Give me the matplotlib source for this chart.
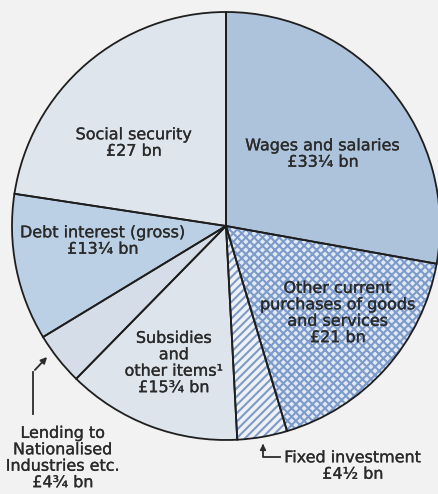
import matplotlib
matplotlib.use("Agg")
import matplotlib.pyplot as plt
import matplotlib.patheffects as pe

# Public expenditure by economic category, £ billion
categories = [
    "Wages and salaries",
    "Other current purchases of goods and services",
    "Fixed investment",
    "Subsidies and other items",
    "Lending to Nationalised Industries etc.",
    "Debt interest (gross)",
    "Social security",
]
values = [33.25, 21, 4.5, 15.75, 4.75, 13.25, 27]
value_labels = ["£33¼ bn", "£21 bn", "£4½ bn", "£15¾ bn", "£4¾ bn", "£13¼ bn", "£27 bn"]

face_colors = ["#adc3dc", "#e2e9f3", "#eef2f7", "#dee4ec", "#d5dde8", "#bcd0e5", "#dfe5ec"]
hatch_colors = ["#adc3dc", "#7d9bcb", "#7f9bc6", "#dee4ec", "#d5dde8", "#bcd0e5", "#dfe5ec"]
hatches = [None, "xxxx", "////", None, None, None, None]

W, H = 439, 494
plt.rcParams["font.family"] = ["DejaVu Sans"]
plt.rcParams["hatch.linewidth"] = 1.5

fig = plt.figure(figsize=(W / 100, H / 100), dpi=100, facecolor="#f2f2f2")
ax = fig.add_axes([0, 0, 1, 1])

cx, cy, r = 226, H - 226, 214

# Filled wedges with their hatching
wedges, _ = ax.pie(values, startangle=90, counterclock=False, center=(cx, cy),
                   radius=r, frame=True)
for w, fc, hc, h in zip(wedges, face_colors, hatch_colors, hatches):
    w.set_facecolor(fc)
    w.set_edgecolor(hc)
    w.set_linewidth(0)
    if h:
        w.set_hatch(h)

# Outlines drawn on top
outlines, _ = ax.pie(values, startangle=90, counterclock=False, center=(cx, cy),
                     radius=r, frame=True,
                     wedgeprops=dict(fill=False, edgecolor="#1e1e1e", linewidth=1.3))
ax.set_xlim(0, W)
ax.set_ylim(0, H)
ax.set_axis_off()

tc = "#2a2a2a"
fs = 11.5
def label(x, y, s):
    ax.text(x, H - y, s, ha="center", va="center", fontsize=fs, color=tc,
            linespacing=1.12,
            path_effects=[pe.withStroke(linewidth=0.2, foreground=tc)])

label(134, 143, "Social security\n" + value_labels[6])
label(323, 154, "Wages and salaries\n" + value_labels[0])
label(103, 241, "Debt interest (gross)\n" + value_labels[5])
label(338, 313, "Other current\npurchases of goods\nand services\n" + value_labels[1])
label(174, 363, "Subsidies\nand\nother items¹\n" + value_labels[3])
label(63, 458, "Lending to\nNationalised\nIndustries etc.\n" + value_labels[4])
label(353, 466, "Fixed investment\n" + value_labels[2])

# Pointer lines for the two thin slices
lc = "#2b2b2b"
ax.plot([33, 33], [H - 414, H - 372], color=lc, lw=1.3)
ax.annotate("", xy=(49, H - 355), xytext=(33, H - 372),
            arrowprops=dict(arrowstyle="-|>", color=lc, lw=1.3, mutation_scale=9))
ax.plot([263, 263, 280], [H - 448, H - 457, H - 457], color=lc, lw=1.3)
ax.annotate("", xy=(263, H - 441), xytext=(263, H - 449),
            arrowprops=dict(arrowstyle="-|>", color=lc, lw=1.3, mutation_scale=8))

fig.savefig("out.png", dpi=100, facecolor=fig.get_facecolor())
